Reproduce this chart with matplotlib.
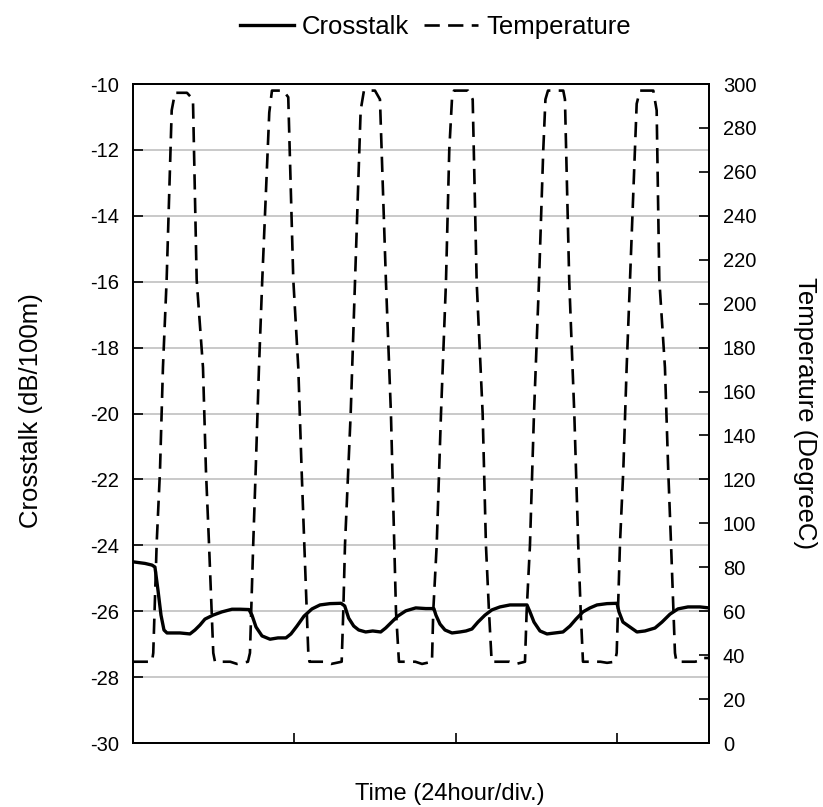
import numpy as np
import matplotlib
matplotlib.use("Agg")
import matplotlib.pyplot as plt

plt.rcParams['font.family'] = ['Liberation Sans', 'DejaVu Sans']
plt.rcParams['lines.scale_dashes'] = False
plt.rcParams['axes.unicode_minus'] = False

# time axis in hours (24 hours per division)
# crosstalk (dB/100m)
xt_time = [0.0, 1.83, 2.87, 3.31, 3.76, 4.21, 4.65, 5.10, 7.03, 8.51, 9.26, 10.00,
           10.74, 11.93, 13.27, 14.76, 15.95, 17.28,
           17.73, 18.33, 19.22, 20.41, 21.60, 22.78, 23.52, 24.42, 25.46, 26.65,
           27.84, 29.32, 30.96,
           31.51, 32.10, 32.85, 33.59, 34.63, 35.67, 36.86, 37.60, 38.49, 39.39,
           40.58, 42.07, 43.56, 44.76,
           45.07, 45.67, 46.41, 47.45, 48.64, 49.53, 50.42, 51.31, 52.35, 53.39,
           54.58, 56.07, 57.55, 58.60,
           59.04, 59.64, 60.53, 61.57, 62.76, 63.95, 64.99, 65.88, 66.92, 67.96,
           69.00, 70.49, 71.97,
           72.27, 72.86, 73.90, 74.94, 76.13, 77.62, 78.66, 79.85, 81.04, 82.52,
           84.30, 85.64]
xt_db = [-24.50, -24.55, -24.60, -24.66, -25.36, -26.12, -26.57, -26.66, -26.66, -26.69,
         -26.57, -26.42, -26.24, -26.12, -26.02, -25.94, -25.94, -25.95,
         -26.12, -26.48, -26.75, -26.85, -26.81, -26.81, -26.69, -26.45, -26.15, -25.93,
         -25.81, -25.77, -25.76,
         -25.84, -26.21, -26.45, -26.57, -26.63, -26.60, -26.63, -26.51, -26.33, -26.15,
         -25.99, -25.90, -25.92, -25.92,
         -26.12, -26.39, -26.57, -26.66, -26.63, -26.60, -26.54, -26.33, -26.12, -25.96,
         -25.87, -25.81, -25.81, -25.81,
         -26.02, -26.33, -26.60, -26.69, -26.66, -26.63, -26.45, -26.24, -26.02, -25.90,
         -25.81, -25.77, -25.76,
         -26.02, -26.33, -26.48, -26.63, -26.60, -26.51, -26.33, -26.09, -25.93, -25.87,
         -25.87, -25.90]

# temperature (degree C)
tp_time = [0.0, 2.87, 3.06, 3.57, 4.06, 4.50, 5.05, 5.80, 6.29, 8.07, 8.96, 9.51,
           10.45, 10.89, 11.34, 11.98, 12.23, 14.5, 15.5, 17.13,
           17.43, 17.92, 18.28, 18.77, 19.26, 20.30, 20.70, 22.38, 23.12, 23.87,
           24.61, 25.11, 25.50, 26.10, 26.27, 28.5, 29.5, 31.06,
           31.30, 31.55, 32.40, 33.04, 33.88, 34.37, 36.01, 36.75, 37.64, 38.38,
           38.88, 39.13, 39.57, 42.0, 43.0, 44.48,
           44.67, 45.18, 45.82, 46.56, 47.05, 47.45, 47.75, 49.83, 50.53, 51.12,
           52.01, 52.50, 52.95, 53.35, 56.0, 57.0, 58.30,
           58.55, 59.04, 59.64, 60.38, 61.02, 61.34, 61.72, 63.99, 64.24, 64.88,
           65.63, 66.22, 66.58, 66.92, 69.5, 70.5, 71.67,
           71.93, 72.42, 72.91, 73.41, 73.91, 74.90, 75.39, 77.37, 77.87, 78.26,
           79.10, 79.59, 80.00, 80.59, 80.81, 83.56, 84.30, 84.75, 85.64]
tp_deg = [37, 37, 41, 91, 124, 171, 211, 288, 296, 296, 293, 211,
          171, 124, 91, 41, 37, 37, 36, 37,
          41, 91, 124, 171, 211, 287, 297, 297, 294, 211,
          171, 124, 91, 41, 37, 37, 36, 37,
          60, 90, 150, 210, 288, 297, 297, 293, 210, 150,
          90, 60, 37, 37, 36, 37,
          60, 90, 150, 210, 270, 293, 297, 297, 293, 210,
          150, 90, 60, 37, 37, 36, 37,
          60, 90, 150, 210, 270, 293, 297, 297, 293, 210,
          150, 90, 60, 37, 37, 36.5, 37,
          41, 91, 124, 171, 211, 291, 297, 297, 288, 211,
          171, 124, 91, 41, 37, 37, 37.5, 38.7, 38.7]

fig = plt.figure(figsize=(8.23, 8.07), dpi=100)
ax = fig.add_axes([0.1612, 0.0793, 0.7003, 0.8166])
ax2 = ax.twinx()

l1, = ax.plot(xt_time, xt_db, color='black', lw=2.4, label='Crosstalk', zorder=3)
l2, = ax2.plot(tp_time, tp_deg, color='black', lw=1.9, dashes=(11, 6),
               label='Temperature')

ax.set_xlim(0, 85.65)
ax.set_ylim(-30, -10)
ax.set_yticks(np.arange(-30, -9, 2))
ax.set_xticks([24, 48, 72])
ax.set_xticklabels([])
ax2.set_ylim(0, 300)
ax2.set_yticks(np.arange(0, 301, 20))

ax.grid(axis='y', color='#c0c0c0', lw=1.2)
ax.set_axisbelow(True)

for a in (ax, ax2):
    a.tick_params(direction='in', length=7, width=1.2, labelsize=14.5, pad=10)
    for s in a.spines.values():
        s.set_linewidth(1.3)
        s.set_color('black')

fig.text(0.038, 0.491, 'Crosstalk (dB/100m)', fontsize=18.5, rotation=90,
         ha='center', va='center')
fig.text(0.978, 0.488, 'Temperature (DegreeC)', fontsize=18.5, rotation=270,
         ha='center', va='center')
fig.text(0.547, 0.0165, 'Time (24hour/div.)', fontsize=17, ha='center', va='center')

fig.legend(handles=[l1, l2], loc='center', bbox_to_anchor=(0.529, 0.966),
           ncol=2, frameon=False, fontsize=18.5, handlelength=2.1,
           columnspacing=0.56, handletextpad=0.32)

fig.savefig('out.png', dpi=100)
